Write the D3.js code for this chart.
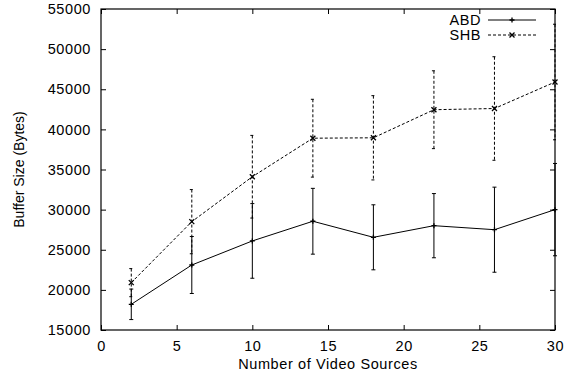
<!DOCTYPE html>
<html>
<head>
<meta charset="utf-8">
<script src="https://cdn.jsdelivr.net/npm/d3@7"></script>
<style>
	body { margin: 0; background: #fff; }
	text { font-family: "Liberation Sans", Arial, Helvetica, sans-serif; font-size: 14.5px; letter-spacing: 0.6px; fill: #000; }
	text.ylabel { font-size: 14px; letter-spacing: 0; }
</style>
</head>
<body>
<div id="chart"></div>
<script>

var sources = [2, 6, 10, 14, 18, 22, 26, 30];

var abdMean = [18200, 23100, 26100, 28550, 26550, 28000, 27500, 30000];
var abdErr  = [1900, 3550, 4650, 4100, 4050, 4000, 5300, 5750];

var shbMean = [20900, 28500, 34100, 38900, 38950, 42450, 42600, 45900];
var shbErr  = [1750, 4000, 5150, 4850, 5250, 4850, 6450, 7200];

var xTicks = [0, 5, 10, 15, 20, 25, 30];
var yTicks = [15000, 20000, 25000, 30000, 35000, 40000, 45000, 50000, 55000];

var seriesNames = ['ABD', 'SHB'];

createChart();

function createChart() {

	var svgWidth = 568;
	var svgHeight = 374;
	var left = 101, right = 555, top = 9, bottom = 330;
	var tickLen = 5;
	var capHalf = 2;

	var x = d3.scaleLinear().domain([0, 30]).range([left, right]);
	var y = d3.scaleLinear().domain([15000, 55000]).range([bottom, top]);

	var svg = d3.select('#chart').append('svg')
		.attr('width', svgWidth)
		.attr('height', svgHeight);

	// axes, ticks pointing inward (gnuplot style), mirrored on top/right
	svg.append('g')
		.attr('transform', 'translate(0,' + bottom + ')')
		.call(d3.axisBottom(x).tickValues(xTicks).tickSize(-tickLen).tickPadding(11).tickFormat(d3.format('d')));
	svg.append('g')
		.attr('transform', 'translate(0,' + top + ')')
		.call(d3.axisTop(x).tickValues(xTicks).tickSize(-tickLen).tickFormat(''));
	svg.append('g')
		.attr('transform', 'translate(' + left + ',0)')
		.call(d3.axisLeft(y).tickValues(yTicks).tickSize(-tickLen).tickPadding(10).tickFormat(d3.format('d')));
	svg.append('g')
		.attr('transform', 'translate(' + right + ',0)')
		.call(d3.axisRight(y).tickValues(yTicks).tickSize(-tickLen).tickFormat(''));

	svg.selectAll('.domain').remove();
	svg.selectAll('.tick line').attr('stroke', '#000');
	svg.selectAll('.tick text')
		.attr('font-family', null)
		.attr('font-size', null);

	svg.append('rect')
		.attr('x', left).attr('y', top)
		.attr('width', right - left).attr('height', bottom - top)
		.attr('fill', 'none').attr('stroke', '#000').attr('stroke-width', 1.2);

	// axis titles
	svg.append('text')
		.attr('x', (left + right) / 2)
		.attr('y', 369)
		.attr('text-anchor', 'middle')
		.text('Number of Video Sources');

	svg.append('text')
		.attr('class', 'ylabel')
		.attr('transform', 'translate(24,' + ((top + bottom) / 2) + ') rotate(-90)')
		.attr('text-anchor', 'middle')
		.text('Buffer Size (Bytes)');

	var series = [
		{ name: seriesNames[0], mean: abdMean, err: abdErr, dash: null, marker: 'plus' },
		{ name: seriesNames[1], mean: shbMean, err: shbErr, dash: '3,2', marker: 'cross' }
	];

	var line = d3.line()
		.x(function(d) { return x(d.x); })
		.y(function(d) { return y(d.v); });

	series.forEach(function(s, k) {
		var pts = sources.map(function(xv, i) { return { x: xv, v: s.mean[i], e: s.err[i] }; });
		var g = svg.append('g');

		// error bars
		var eb = g.selectAll('.eb').data(pts).enter().append('g')
			.attr('stroke', '#000')
			.attr('stroke-width', 1)
			.attr('stroke-dasharray', s.dash);
		eb.append('line')
			.attr('x1', function(d) { return x(d.x); })
			.attr('x2', function(d) { return x(d.x); })
			.attr('y1', function(d) { return y(d.v + d.e); })
			.attr('y2', function(d) { return y(d.v - d.e); });
		eb.append('line')
			.attr('stroke-dasharray', null)
			.attr('x1', function(d) { return x(d.x) - capHalf; })
			.attr('x2', function(d) { return x(d.x) + capHalf; })
			.attr('y1', function(d) { return y(d.v + d.e); })
			.attr('y2', function(d) { return y(d.v + d.e); });
		eb.append('line')
			.attr('stroke-dasharray', null)
			.attr('x1', function(d) { return x(d.x) - capHalf; })
			.attr('x2', function(d) { return x(d.x) + capHalf; })
			.attr('y1', function(d) { return y(d.v - d.e); })
			.attr('y2', function(d) { return y(d.v - d.e); });

		// the line
		g.append('path')
			.datum(pts)
			.attr('d', line)
			.attr('fill', 'none')
			.attr('stroke', '#000')
			.attr('stroke-width', 1)
			.attr('stroke-dasharray', s.dash);

		// markers
		g.selectAll('.pt').data(pts).enter().append('path')
			.attr('transform', function(d) { return 'translate(' + x(d.x) + ',' + y(d.v) + ')'; })
			.attr('d', markerPath(s.marker))
			.attr('fill', 'none')
			.attr('stroke', '#000')
			.attr('stroke-width', 1.3);

		// legend entry
		var ly = 20 + k * 15;
		svg.append('text')
			.attr('x', 481)
			.attr('y', ly)
			.attr('dy', '0.35em')
			.attr('text-anchor', 'end')
			.text(s.name);
		svg.append('line')
			.attr('x1', 488).attr('x2', 536)
			.attr('y1', ly).attr('y2', ly)
			.attr('stroke', '#000')
			.attr('stroke-width', 1)
			.attr('stroke-dasharray', s.dash);
		svg.append('path')
			.attr('transform', 'translate(512,' + ly + ')')
			.attr('d', markerPath(s.marker))
			.attr('fill', 'none')
			.attr('stroke', '#000')
			.attr('stroke-width', 1.3);
	});
}

function markerPath(type) {
	var r = 2.5;
	if (type === 'plus') {
		return 'M' + (-r) + ',0H' + r + 'M0,' + (-r) + 'V' + r;
	}
	return 'M' + (-r) + ',' + (-r) + 'L' + r + ',' + r + 'M' + (-r) + ',' + r + 'L' + r + ',' + (-r);
}

</script>
</body>
</html>
